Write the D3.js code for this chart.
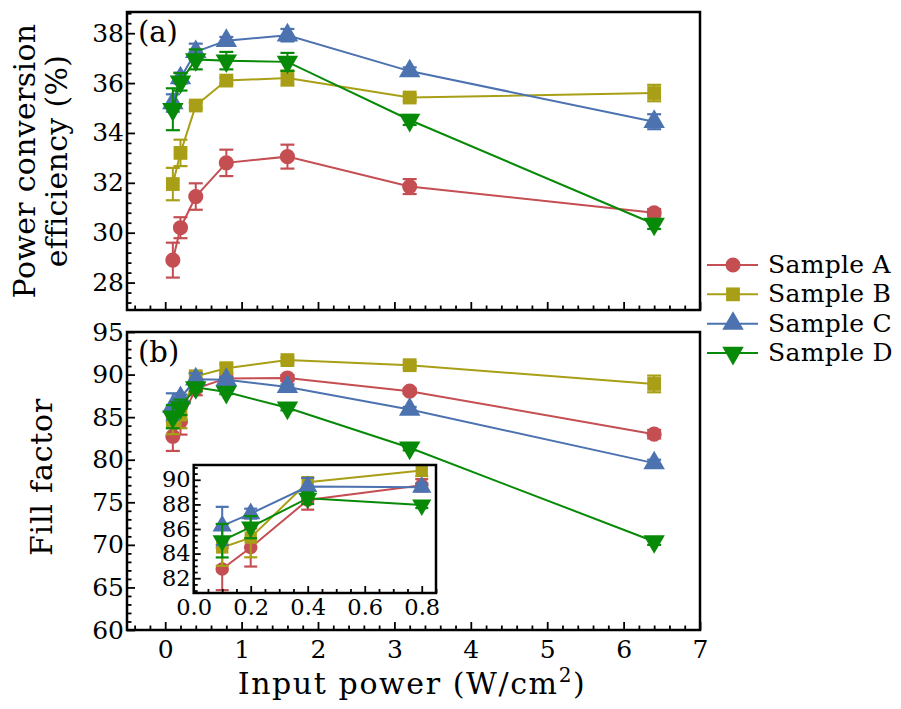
<!DOCTYPE html>
<html><head><meta charset="utf-8">
<script src="https://cdn.jsdelivr.net/npm/d3@7"></script>
<style>
body{margin:0;background:#fff}
svg{display:block}
text{font-family:"DejaVu Serif","Liberation Serif",serif;fill:#000}
</style>
</head><body>
<svg id="c" width="901" height="709"></svg>
<script>
// ---------- data ----------
const power = [0.1, 0.2, 0.4, 0.8, 1.6, 3.2, 6.4];
const sampleNames = ["Sample A", "Sample B", "Sample C", "Sample D"];

const pceA = [28.9, 30.2, 31.45, 32.8, 33.05, 31.85, 30.8];
const pceAErr = [0.7, 0.42, 0.53, 0.53, 0.48, 0.3, 0.15];
const pceB = [31.95, 33.2, 35.1, 36.1, 36.2, 35.42, 35.6];
const pceBErr = [0.65, 0.53, 0.12, 0.12, 0.3, 0.12, 0.33];
const pceC = [35.2, 36.2, 37.25, 37.7, 37.92, 36.48, 34.45];
const pceCErr = [0.35, 0.22, 0.33, 0.15, 0.25, 0.15, 0.3];
const pceD = [34.95, 36.05, 36.95, 36.9, 36.85, 34.52, 30.35];
const pceDErr = [0.84, 0.35, 0.4, 0.35, 0.36, 0.2, 0.2];

const ffA = [82.75, 84.5, 88.35, 89.55, 89.6, 88.05, 83.0];
const ffAErr = [1.72, 1.55, 0.78, 0.5, 0.35, 0.3, 0.5];
const ffB = [84.5, 85.3, 89.8, 90.75, 91.7, 91.1, 88.9];
const ffBErr = [1.5, 1.6, 0.35, 0.45, 0.3, 0.35, 0.98];
const ffC = [86.25, 87.25, 89.45, 89.4, 88.55, 85.9, 79.6];
const ffCErr = [1.55, 0.4, 0.7, 0.3, 0.3, 0.3, 0.4];
const ffD = [85.05, 86.15, 88.5, 87.95, 86.1, 81.4, 70.4];
const ffDErr = [1.36, 0.9, 0.47, 0.25, 0.3, 0.3, 0.4];

const xTicks = [0, 1, 2, 3, 4, 5, 6, 7];
const pceTicks = [28, 30, 32, 34, 36, 38];
const ffTicks = [60, 65, 70, 75, 80, 85, 90, 95];
const insetXTicks = [0.0, 0.2, 0.4, 0.6, 0.8];
const insetYTicks = [82, 84, 86, 88, 90];

// ---------- style ----------
const FONT = '"DejaVu Serif","Liberation Serif",serif';
const colors = ["#C44E52", "#A89F16", "#4C72B0", "#078A07"];
const symbols = ["circle", "square", "triangle", "triangleDown"];

const svg = d3.select("#c");

const L = 127, R = 700;
const x = d3.scaleLinear().domain([-0.5, 7]).range([L, R]);
const yTop = d3.scaleLinear().domain([26.9, 38.85]).range([310, 12]);
const yBot = d3.scaleLinear().domain([60, 95]).range([630, 332]);
const xIn = d3.scaleLinear().domain([0, 0.85]).range([193.7, 436]);
const yIn = d3.scaleLinear().domain([80.8, 91.2]).range([593, 465]);

const pceSeries = [[pceA, pceAErr], [pceB, pceBErr], [pceC, pceCErr], [pceD, pceDErr]];
const ffSeries = [[ffA, ffAErr], [ffB, ffBErr], [ffC, ffCErr], [ffD, ffDErr]];

function symPath(kind, scale) {
  const s = scale || 1;
  if (kind === "circle") return d3.symbol(d3.symbolCircle, 180 * s)();
  if (kind === "square") return d3.symbol(d3.symbolSquare, 190 * s)();
  return d3.symbol(d3.symbolTriangle, 200 * s)();
}

function minorRange(lo, hi, step, majors) {
  const out = [];
  const start = Math.ceil(lo / step - 1e-9);
  for (let k = start; k * step <= hi + 1e-9; k++) {
    const v = +(k * step).toFixed(6);
    if (!majors.some(m => Math.abs(m - v) < 1e-6)) out.push(v);
  }
  return out;
}

function styleAxis(g, fs) {
  g.select(".domain").remove();
  g.selectAll(".tick line").attr("stroke", "#000").attr("stroke-width", 1.8);
  g.selectAll(".tick text").attr("font-size", fs).attr("font-family", FONT).attr("fill", "#000");
}

function drawAxes(gx, gy, xs, ys, xMaj, xMin, yMaj, yMin, showX, fs, fmtX, fmtY, maj, mn, padX, padY) {
  const ax = d3.axisBottom(xs).tickValues(xMaj).tickSizeInner(-maj).tickSizeOuter(0).tickPadding(padX)
    .tickFormat(showX ? fmtX : "");
  gx.call(ax); styleAxis(gx, fs);
  const axm = d3.axisBottom(xs).tickValues(xMin).tickSize(-mn).tickFormat("");
  const gxm = gx.append("g"); gxm.call(axm); styleAxis(gxm, fs);
  const ay = d3.axisLeft(ys).tickValues(yMaj).tickSizeInner(-maj).tickSizeOuter(0).tickPadding(padY).tickFormat(fmtY);
  gy.call(ay); styleAxis(gy, fs);
  const aym = d3.axisLeft(ys).tickValues(yMin).tickSize(-mn).tickFormat("");
  const gym = gy.append("g"); gym.call(aym); styleAxis(gym, fs);
}

function drawSeries(g, xs, ys, series, idxFilter, capW, mscale) {
  series.forEach(([vals, errs], si) => {
    const pts = power.map((p, i) => ({ p, v: vals[i], e: errs[i] })).filter((d, i) => idxFilter(i));
    const sg = g.append("g");
    sg.append("path").datum(pts)
      .attr("d", d3.line().x(d => xs(d.p)).y(d => ys(d.v)))
      .attr("fill", "none").attr("stroke", colors[si]).attr("stroke-width", 2);
    const eb = sg.selectAll("g.eb").data(pts).enter().append("g");
    eb.append("line").attr("x1", d => xs(d.p)).attr("x2", d => xs(d.p))
      .attr("y1", d => ys(d.v - d.e)).attr("y2", d => ys(d.v + d.e))
      .attr("stroke", colors[si]).attr("stroke-width", 2);
    [-1, 1].forEach(sgn => {
      eb.append("line").attr("x1", d => xs(d.p) - capW / 2).attr("x2", d => xs(d.p) + capW / 2)
        .attr("y1", d => ys(d.v + sgn * d.e)).attr("y2", d => ys(d.v + sgn * d.e))
        .attr("stroke", colors[si]).attr("stroke-width", 2.2);
    });
    sg.selectAll("path.m").data(pts).enter().append("path")
      .attr("d", symPath(symbols[si], mscale))
      .attr("transform", d => `translate(${xs(d.p)},${ys(d.v)})` + (symbols[si] === "triangleDown" ? " rotate(180)" : ""))
      .attr("fill", colors[si]);
  });
}

const fmtInt = d3.format("d");
const fmt1 = d3.format(".1f");

// ---------- top panel ----------
const gTop = svg.append("g");
drawSeries(gTop, x, yTop, pceSeries, () => true, 14, 1);
drawAxes(gTop.append("g").attr("transform", "translate(0,310)"), gTop.append("g").attr("transform", `translate(${L},0)`),
  x, yTop, xTicks, minorRange(-0.5, 7, 0.2, xTicks), pceTicks, minorRange(26.9, 38.85, 0.4, pceTicks),
  false, 25, fmtInt, fmtInt, 8, 4.5, 10, 3);
gTop.append("rect").attr("x", L).attr("y", 12).attr("width", R - L).attr("height", 298)
  .attr("fill", "none").attr("stroke", "#000").attr("stroke-width", 2.5);
gTop.append("text").attr("x", 138).attr("y", 42).attr("font-size", 29).text("(a)");

// ---------- bottom panel ----------
const gBot = svg.append("g");
drawSeries(gBot, x, yBot, ffSeries, () => true, 14, 1);
drawAxes(gBot.append("g").attr("transform", "translate(0,630)"), gBot.append("g").attr("transform", `translate(${L},0)`),
  x, yBot, xTicks, minorRange(-0.5, 7, 0.2, xTicks), ffTicks, minorRange(60, 95, 1, ffTicks),
  true, 25, fmtInt, fmtInt, 8, 4.5, 10, 3);
gBot.append("rect").attr("x", L).attr("y", 332).attr("width", R - L).attr("height", 298)
  .attr("fill", "none").attr("stroke", "#000").attr("stroke-width", 2.5);
gBot.append("text").attr("x", 138).attr("y", 362).attr("font-size", 29).text("(b)");

// ---------- inset ----------
const gIn = svg.append("g");
gIn.append("rect").attr("x", 193.7).attr("y", 465).attr("width", 436 - 193.7).attr("height", 128).attr("fill", "#fff");
drawSeries(gIn, xIn, yIn, ffSeries, i => i < 4, 13, 0.8);
drawAxes(gIn.append("g").attr("transform", "translate(0,593)"), gIn.append("g").attr("transform", "translate(193.7,0)"),
  xIn, yIn, insetXTicks, minorRange(0, 0.85, 0.05, insetXTicks), insetYTicks, minorRange(80.8, 91.2, 0.5, insetYTicks),
  true, 22.5, fmt1, fmtInt, 7, 4, 6, 3);
gIn.append("rect").attr("x", 193.7).attr("y", 465).attr("width", 436 - 193.7).attr("height", 128)
  .attr("fill", "none").attr("stroke", "#000").attr("stroke-width", 2.5);

// ---------- axis titles ----------
const tx = svg.append("text").attr("x", 412).attr("y", 694).attr("text-anchor", "middle").attr("font-size", 30)
  .attr("letter-spacing", 1.6);
tx.append("tspan").text("Input power (W/cm");
tx.append("tspan").attr("dy", -12).attr("font-size", 20).text("2");
tx.append("tspan").attr("dy", 12).text(")");

svg.append("text").attr("transform", "translate(35,161) rotate(-90)").attr("text-anchor", "middle")
  .attr("font-size", 30).attr("letter-spacing", 0.3).text("Power conversion");
svg.append("text").attr("transform", "translate(67,161) rotate(-90)").attr("text-anchor", "middle")
  .attr("font-size", 30).attr("letter-spacing", 0.3).text("efficiency (%)");
svg.append("text").attr("transform", "translate(52,477) rotate(-90)").attr("text-anchor", "middle")
  .attr("font-size", 30).attr("letter-spacing", 0.8).text("Fill factor");

// ---------- legend ----------
const lg = svg.append("g");
const legY = d3.scalePoint().domain(sampleNames).range([265, 353]);
sampleNames.forEach((nm, i) => {
  const yy = legY(nm);
  lg.append("line").attr("x1", 707).attr("x2", 758).attr("y1", yy).attr("y2", yy)
    .attr("stroke", colors[i]).attr("stroke-width", 2);
  lg.append("path").attr("d", symPath(symbols[i], 1))
    .attr("transform", `translate(733,${yy})` + (symbols[i] === "triangleDown" ? " rotate(180)" : ""))
    .attr("fill", colors[i]);
  lg.append("text").attr("x", 768).attr("y", yy + 8).attr("font-size", 25).attr("letter-spacing", 0.3).text(nm);
});
</script>
</body></html>
